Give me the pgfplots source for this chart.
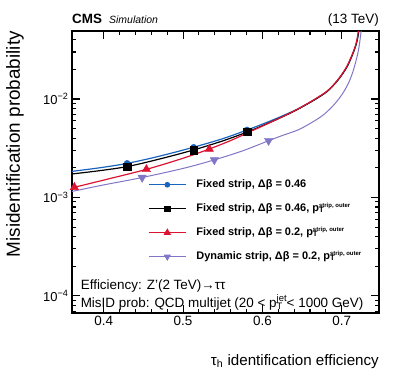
\documentclass[border=0pt]{standalone}
\usepackage{fontspec}
\setmainfont{Liberation Sans}
\usepackage{pgfplots}
\pgfplotsset{compat=1.18}
\definecolor{cblue}{RGB}{25,100,190}
\definecolor{cred}{RGB}{220,20,50}
\definecolor{cpurple}{RGB}{128,118,198}

% curves
\pgfplotstableread{
x y
0.360 1.84e-3
0.395 2.00e-3
0.430 2.22e-3
0.470 2.62e-3
0.513 3.23e-3
0.550 3.95e-3
0.581 4.85e-3
0.600 5.55e-3
0.620 6.45e-3
0.640 7.60e-3
0.655 8.75e-3
0.670 1.03e-2
0.682 1.20e-2
0.692 1.45e-2
0.700 1.75e-2
0.707 2.15e-2
0.713 2.75e-2
0.717 3.35e-2
0.7195 3.95e-2
0.7215 4.90e-2
}\blueline
\pgfplotstableread{
x y
0.360 1.73e-3
0.395 1.87e-3
0.430 2.06e-3
0.470 2.45e-3
0.513 3.03e-3
0.550 3.75e-3
0.581 4.62e-3
0.600 5.35e-3
0.620 6.30e-3
0.640 7.50e-3
0.655 8.75e-3
0.670 1.03e-2
0.682 1.20e-2
0.692 1.45e-2
0.700 1.75e-2
0.707 2.15e-2
0.713 2.75e-2
0.717 3.35e-2
0.7195 3.95e-2
0.7215 4.90e-2
}\blackline
\pgfplotstableread{
x y
0.360 1.25e-3
0.400 1.50e-3
0.454 1.93e-3
0.500 2.50e-3
0.533 3.10e-3
0.560 3.78e-3
0.581 4.52e-3
0.600 5.30e-3
0.620 6.30e-3
0.640 7.55e-3
0.655 8.80e-3
0.670 1.04e-2
0.682 1.21e-2
0.692 1.46e-2
0.700 1.77e-2
0.707 2.18e-2
0.713 2.80e-2
0.717 3.40e-2
0.7192 4.00e-2
0.7210 4.90e-2
}\redline
\pgfplotstableread{
x y
0.360 1.15e-3
0.400 1.34e-3
0.448 1.59e-3
0.500 1.97e-3
0.539 2.40e-3
0.575 2.97e-3
0.608 3.77e-3
0.625 4.25e-3
0.645 4.85e-3
0.662 5.75e-3
0.677 6.90e-3
0.690 8.70e-3
0.700 1.10e-2
0.708 1.42e-2
0.714 1.88e-2
0.719 2.62e-2
0.722 3.45e-2
0.7245 4.90e-2
}\purpleline

\begin{document}
\begin{tikzpicture}
\begin{axis}[name=ax, scale only axis, width=307bp, height=282bp,
  xmin=0.36, xmax=0.747, ymode=log, ymin=6.7e-5, ymax=0.049,
  clip mode=individual,
  axis line style={line width=1.2bp},
  tick align=inside, xtick pos=both, ytick pos=both,
  xticklabel pos=lower, yticklabel pos=left,
  major tick length=8bp, minor tick length=4.5bp,
  every tick/.style={black, line width=1.1bp},
  xtick={0.4,0.5,0.6,0.7}, minor x tick num=4,
  ytick={1e-4,1e-3,1e-2},
  yticklabels={10\textsuperscript{−4},10\textsuperscript{−3},10\textsuperscript{−2}},
  minor ytick={7e-5,8e-5,9e-5,2e-4,3e-4,4e-4,5e-4,6e-4,7e-4,8e-4,9e-4,2e-3,3e-3,4e-3,5e-3,6e-3,7e-3,8e-3,9e-3,2e-2,3e-2,4e-2},
  /pgf/number format/assume math mode=true,
  xticklabel style={font=\fontsize{13.5}{15}\selectfont},
  yticklabel style={font=\fontsize{13}{15}\selectfont},
  xlabel={τ\textsubscript{h} identification efficiency},
  xlabel style={at={(axis description cs:1,0)}, anchor=base east, yshift=-52bp, inner sep=0pt, font=\fontsize{15.2}{17}\selectfont},
  ylabel={Misidentification probability},
  ylabel style={at={(axis description cs:-0.215,1)}, anchor=north east, inner sep=0pt, font=\fontsize{19}{22}\selectfont},
  legend style={at={(rel axis cs:0.2476,0.475)}, anchor=north west, draw=none, fill=none,
    inner sep=0pt, column sep=10bp, row sep=13bp,
    font=\bfseries\fontsize{11}{12}\selectfont,
    nodes={inner sep=0pt, text height=8bp, text depth=3bp}},
  legend cell align=left,
  legend image code/.code={\draw[mark repeat=2,mark phase=2,#1] plot coordinates {(0bp,0bp) (18.5bp,0bp) (37bp,0bp)};},
]
\addplot[cblue, line width=1.2bp, smooth, forget plot] table {\blueline};
\addplot[black, line width=1.2bp, smooth, forget plot] table {\blackline};
\addplot[cred, line width=1.2bp, smooth, forget plot] table {\redline};
\addplot[cpurple, line width=1bp, smooth, forget plot] table {\purpleline};

\addplot[only marks, mark=*, mark size=3bp, cblue, forget plot] coordinates {(0.4295,2.22e-3) (0.5133,3.23e-3) (0.5806,4.85e-3)};
\addplot[only marks, mark=square*, mark size=3.7bp, black, forget plot] coordinates {(0.4295,2.06e-3) (0.5133,3.03e-3) (0.5806,4.62e-3)};
\addplot[only marks, mark=triangle*, mark size=4.8bp, cred, forget plot] coordinates {(0.363,1.27e-3) (0.4538,1.93e-3) (0.5331,3.10e-3)};
\addplot[only marks, mark=triangle*, mark size=4.8bp, mark options={rotate=180}, cpurple, forget plot] coordinates {(0.4484,1.59e-3) (0.5394,2.40e-3) (0.6078,3.77e-3)};

\addlegendimage{cblue, line width=1.2bp, mark=*, mark size=2.2bp}
\addlegendentry{Fixed strip, Δβ = 0.46}
\addlegendimage{black, line width=1.2bp, mark=square*, mark size=2.6bp}
\addlegendentry{Fixed strip, Δβ = 0.46, p\rlap{\textsuperscript{\fontsize{6}{7}\selectfont strip, outer}}\textsubscript{T}}
\addlegendimage{cred, line width=1.2bp, mark=triangle*, mark size=3.2bp}
\addlegendentry{Fixed strip, Δβ = 0.2, p\rlap{\textsuperscript{\fontsize{6}{7}\selectfont strip, outer}}\textsubscript{T}}
\addlegendimage{cpurple, line width=1bp, mark=triangle*, mark size=3.2bp, mark options={rotate=180}}
\addlegendentry{Dynamic strip, Δβ = 0.2, p\rlap{\textsuperscript{\fontsize{6}{7}\selectfont strip, outer}}\textsubscript{T}}

\node[anchor=base west, inner sep=0pt, font=\fontsize{13.5}{15}\selectfont] at (rel axis cs:0.028,0.082) {Efficiency: Z'(2 TeV)→ττ};
\node[anchor=base west, inner sep=0pt, font=\fontsize{13.5}{15}\selectfont] at (rel axis cs:0.028,0.021) {MisID prob: QCD multijet (20 < p\rlap{\textsuperscript{jet}}\textsubscript{T} < 1000 GeV)};
\end{axis}
\node[anchor=base west, inner sep=0pt, font=\bfseries\fontsize{13.5}{15}\selectfont] at ([yshift=7bp]ax.north west) {CMS};
\node[anchor=base west, inner sep=0pt, font=\itshape\fontsize{10.5}{12}\selectfont] at ([xshift=37bp,yshift=7bp]ax.north west) {Simulation};
\node[anchor=base east, inner sep=0pt, font=\fontsize{13.5}{15}\selectfont] at ([yshift=7bp]ax.north east) {(13 TeV)};
\pgfresetboundingbox
\path ([xshift=-72bp,yshift=-70bp]ax.south west) rectangle ([xshift=20bp,yshift=31bp]ax.north east);
\end{tikzpicture}
\end{document}
